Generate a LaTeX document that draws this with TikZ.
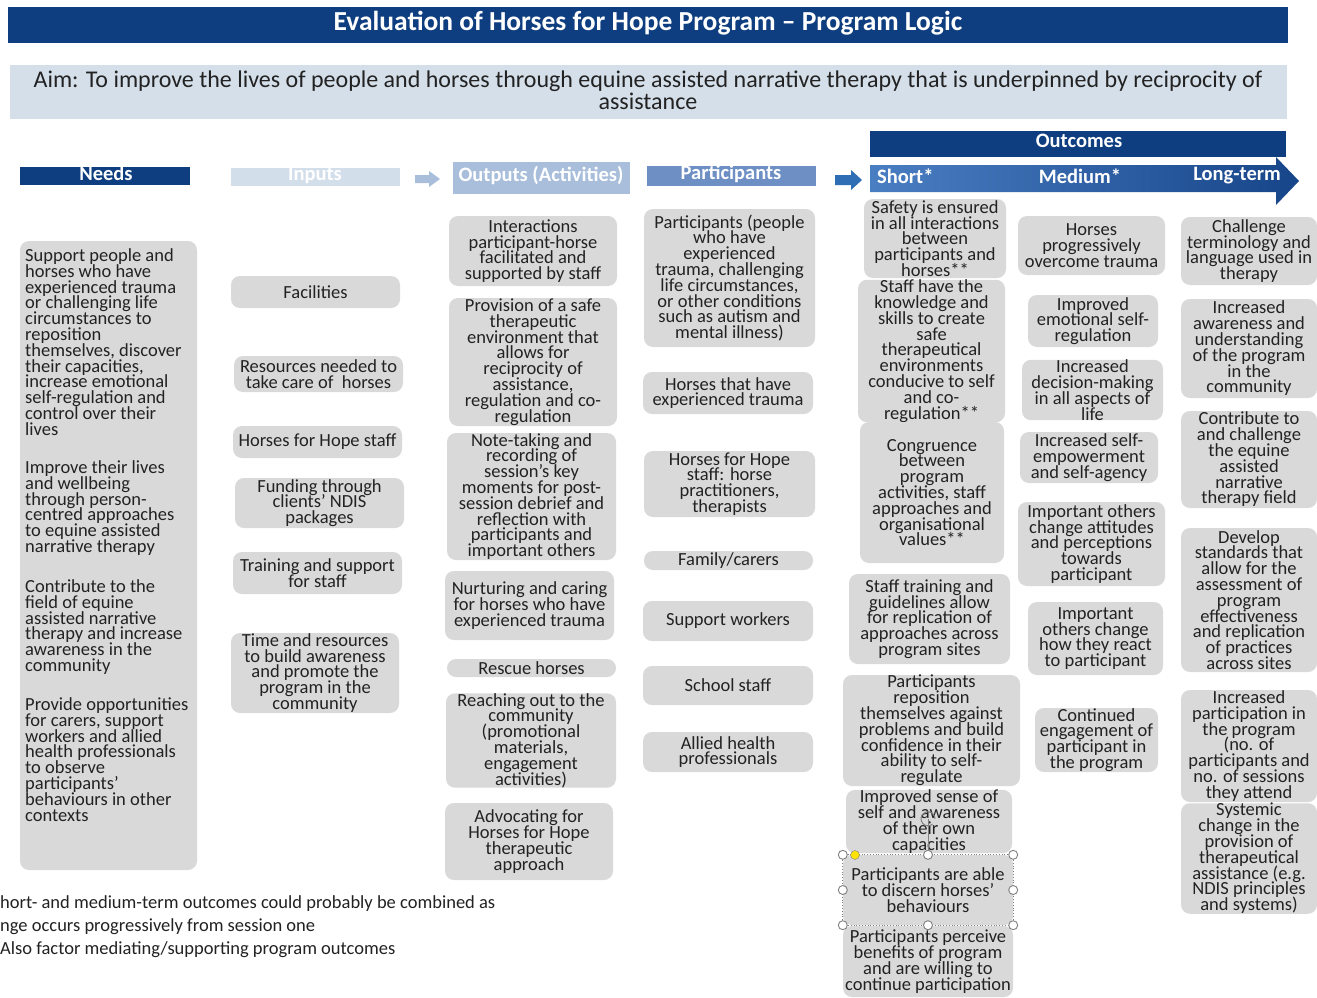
\documentclass[tikz,border=0pt]{standalone}
\usepackage{fontspec}
\setmainfont{Carlito}
\lineskiplimit=-100pt
\definecolor{navy}{HTML}{0E3E80}
\definecolor{boxgray}{HTML}{D9D9D9}
\definecolor{aimblue}{HTML}{D5DFEA}
\definecolor{inblue}{HTML}{D3DEEB}
\definecolor{outblue}{HTML}{A8BEDB}
\definecolor{partblue}{HTML}{6D8FC3}
\definecolor{arrowblue}{HTML}{2F6DB5}
\definecolor{arrowlight}{HTML}{4A7EC2}
\definecolor{arrowdark}{HTML}{17458A}
\definecolor{inkgray}{HTML}{222222}
\definecolor{handlegray}{HTML}{7F7F7F}
\tikzset{
  txt/.style={font=\fontsize{18.5}{15.8}\selectfont, text=inkgray, inner sep=0pt},
  gbox/.style={txt, fill=boxgray, rounded corners=9pt, align=center},
  head/.style={font=\fontsize{20.5}{21}\selectfont\bfseries, text=white, inner sep=0pt},
  needtxt/.style={txt, anchor=north west, align=left},
  handle/.style={circle, draw=handlegray, fill=white, line width=0.9pt, minimum size=9pt, inner sep=0pt},
}
% box from (x1,y1) to (x2,y2), text centred inside
\newcommand\gb[6]{\node[gbox, minimum width={#4-#2}, minimum height={#5-#3}] (#1) at ({(#2+#4)/2},{(#3+#5)/2}) {#6};}
\begin{document}
\begin{tikzpicture}[x=1pt,y=-1pt]
\useasboundingbox[fill=white] (0,0) rectangle (1317,998);

% title and aim
\node[fill=navy, minimum width=1280, minimum height=36, inner sep=0pt] (title) at (648,25) {};
\node[font=\fontsize{27.5}{28}\selectfont\bfseries, text=white, inner sep=0pt] (titletxt) at (648,23) {Evaluation of Horses for Hope Program – Program Logic};
\node[fill=aimblue, minimum width=1277, minimum height=54, inner sep=0pt] (aim) at (648.5,92) {};
\node[font=\fontsize{24}{22}\selectfont, text=inkgray, align=center, inner sep=0pt] (aimtxt) at (648,90) {Aim: To improve the lives of people and horses through equine assisted narrative therapy that is underpinned by reciprocity of\\assistance};

% column headers
\node[fill=navy, minimum width=170, minimum height=18, inner sep=0pt] (needsh) at (105,176) {};
\node[head] (needst) at (106,173) {Needs};
\node[fill=inblue, minimum width=169, minimum height=18, inner sep=0pt] (inputsh) at (315.5,177) {};
\node[head] (inputst) at (315,175) {Inputs};
\node[fill=outblue, minimum width=177, minimum height=32, inner sep=0pt] (outputsh) at (541.5,178) {};
\node[head] (outputst) at (541,176) {Outputs (Activities)};
\node[fill=partblue, minimum width=169, minimum height=20, inner sep=0pt] (partsh) at (731.5,176) {};
\node[head] (partst) at (731,174) {Participants};
\node[fill=navy, minimum width=416, minimum height=26, inner sep=0pt] (outcomesh) at (1078,144) {};
\node[head] (outcomest) at (1079,141) {Outcomes};

% block arrows between the header groups
\fill[outblue] (415,175) -- (429,175) -- (429,171) -- (440,179) -- (429,187) -- (429,183) -- (415,183) -- cycle;
\fill[arrowblue] (835,175) -- (851,175) -- (851,170) -- (862,180) -- (851,190) -- (851,185) -- (835,185) -- cycle;
\shade[left color=arrowlight, right color=arrowdark] (870,165) -- (1276,165) -- (1276,157) -- (1299,181) -- (1276,205) -- (1276,192) -- (870,192) -- cycle;
\node[head, anchor=west] (shortt) at (877,176) {Short*};
\node[head] (mediumt) at (1080,176) {Medium*};
\node[head] (longt) at (1237,176) {Long-term};

% needs
\node[fill=boxgray, rounded corners=9pt, minimum width=177, minimum height=629, inner sep=0pt] (needs) at (108.5,555.5) {};
\node[needtxt] (need1) at (25,248.5) {Support people and\\horses who have\\experienced trauma\\or challenging life\\circumstances to\\reposition\\themselves, discover\\their capacities,\\increase emotional\\self-regulation and\\control over their\\lives};
\node[needtxt] (need2) at (25,460.5) {Improve their lives\\and wellbeing\\through person-\\centred approaches\\to equine assisted\\narrative therapy};
\node[needtxt] (need3) at (25,579.5) {Contribute to the\\field of equine\\assisted narrative\\therapy and increase\\awareness in the\\community};
\node[needtxt] (need4) at (25,697.5) {Provide opportunities\\for carers, support\\workers and allied\\health professionals\\to observe\\participants’\\behaviours in other\\contexts};

% inputs
\gb{in1}{231}{276}{400}{308}{Facilities}
\gb{in2}{234}{356}{403}{392}{Resources needed to\\take care of\ \ horses}
\gb{in3}{233}{426}{402}{458}{Horses for Hope staff}
\gb{in4}{235}{478}{404}{528}{Funding through\\clients’ NDIS\\packages}
\gb{in5}{233}{552}{402}{594}{Training and support\\for staff}
\gb{in6}{231}{633}{399}{713}{Time and resources\\to build awareness\\and promote the\\program in the\\community}

% outputs
\gb{out1}{449}{216}{617}{286}{Interactions\\participant-horse\\facilitated and\\supported by staff}
\gb{out2}{449}{298}{617}{426}{Provision of a safe\\therapeutic\\environment that\\allows for\\reciprocity of\\assistance,\\regulation and co-\\regulation}
\gb{out3}{447}{433}{616}{560}{Note-taking and\\recording of\\session’s key\\moments for post-\\session debrief and\\reflection with\\participants and\\important others}
\gb{out4}{445}{571}{614}{640}{Nurturing and caring\\for horses who have\\experienced trauma}
\gb{out5}{447}{659}{616}{677}{Rescue horses}
\gb{out6}{446}{694}{616}{787}{Reaching out to the\\community\\(promotional\\materials,\\engagement\\activities)}
\gb{out7}{445}{803}{613}{880}{Advocating for\\Horses for Hope\\therapeutic\\approach}

% participants
\gb{par1}{644}{209}{815}{347}{Participants (people\\who have\\experienced\\trauma, challenging\\life circumstances,\\or other conditions\\such as autism and\\mental illness)}
\gb{par2}{643}{372}{813}{414}{Horses that have\\experienced trauma}
\gb{par3}{644}{451}{815}{517}{Horses for Hope\\staff: horse\\practitioners,\\therapists}
\gb{par4}{644}{551}{813}{570}{Family/carers}
\gb{par5}{643}{601}{813}{641}{Support workers}
\gb{par6}{643}{666}{813}{705}{School staff}
\gb{par7}{643}{732}{813}{772}{Allied health\\professionals}

% short-term outcomes
\gb{sh1}{864}{199}{1006}{278}{Safety is ensured\\in all interactions\\between\\participants and\\horses**}
\gb{sh2}{858}{282}{1005}{420}{Staff have the\\knowledge and\\skills to create\\safe\\therapeutical\\environments\\conducive to self\\and co-\\regulation**}
\gb{sh3}{860}{422}{1004}{563}{Congruence\\between\\program\\activities, staff\\approaches and\\organisational\\values**}
\gb{sh4}{849}{574}{1010}{664}{Staff training and\\guidelines allow\\for replication of\\approaches across\\program sites}
\gb{sh5}{843}{675}{1020}{786}{Participants\\reposition\\themselves against\\problems and build\\confidence in their\\ability to self-\\regulate}
\gb{sh6}{846}{793}{1012}{850}{Improved sense of\\self and awareness\\of their own\\capacities}
\gb{sh7}{843}{855}{1013}{925}{Participants are able\\to discern horses’\\behaviours}
\gb{sh8}{843}{926}{1013}{997}{Participants perceive\\benefits of program\\and are willing to\\continue participation}

% medium-term outcomes
\gb{me1}{1018}{216}{1165}{275}{Horses\\progressively\\overcome trauma}
\gb{me2}{1028}{295}{1158}{347}{Improved\\emotional self-\\regulation}
\gb{me3}{1022}{360}{1163}{420}{Increased\\decision-making\\in all aspects of\\life}
\gb{me4}{1020}{432}{1158}{483}{Increased self-\\empowerment\\and self-agency}
\gb{me5}{1018}{502}{1165}{586}{Important others\\change attitudes\\and perceptions\\towards\\participant}
\gb{me6}{1028}{602}{1163}{675}{Important\\others change\\how they react\\to participant}
\gb{me7}{1035}{708}{1158}{772}{Continued\\engagement of\\participant in\\the program}

% long-term outcomes
\gb{lo1}{1181}{217}{1317}{285}{Challenge\\terminology and\\language used in\\therapy}
\gb{lo2}{1181}{299}{1317}{398}{Increased\\awareness and\\understanding\\of the program\\in the\\community}
\gb{lo3}{1181}{411}{1317}{508}{Contribute to\\and challenge\\the equine\\assisted\\narrative\\therapy field}
\gb{lo4}{1181}{528}{1317}{672}{Develop\\standards that\\allow for the\\assessment of\\program\\effectiveness\\and replication\\of practices\\across sites}
\gb{lo5}{1181}{690}{1317}{802}{Increased\\participation in\\the program\\(no. of\\participants and\\no. of sessions\\they attend}
\gb{lo6}{1181}{805}{1317}{912}{Systemic\\change in the\\provision of\\therapeutical\\assistance (e.g.\\NDIS principles\\and systems)}

% selection frame around the "discern" box
\draw[handlegray, dotted, line width=0.8pt] (sh7.north west) rectangle (sh7.south east);
\draw[handlegray, line width=0.9pt] (sh7.north) -- ++(0,-36) coordinate (rot);
\draw[handlegray, line width=1pt] ([shift={(50:7)}]rot) arc[start angle=50, end angle=360, radius=7];
\foreach \a in {north west, north, north east, west, east, south west, south, south east}
  \node[handle] at (sh7.\a) {};
\node[circle, fill=yellow!85!orange, draw=handlegray, minimum size=9pt, inner sep=0pt] (adj) at (855,855) {};

% footnotes
\node[txt, anchor=west] (fn1) at (0,904) {hort- and medium-term outcomes could probably be combined as};
\node[txt, anchor=west] (fn2) at (0,927) {nge occurs progressively from session one};
\node[txt, anchor=west] (fn3) at (0,950) {Also factor mediating/supporting program outcomes};
\end{tikzpicture}
\end{document}
